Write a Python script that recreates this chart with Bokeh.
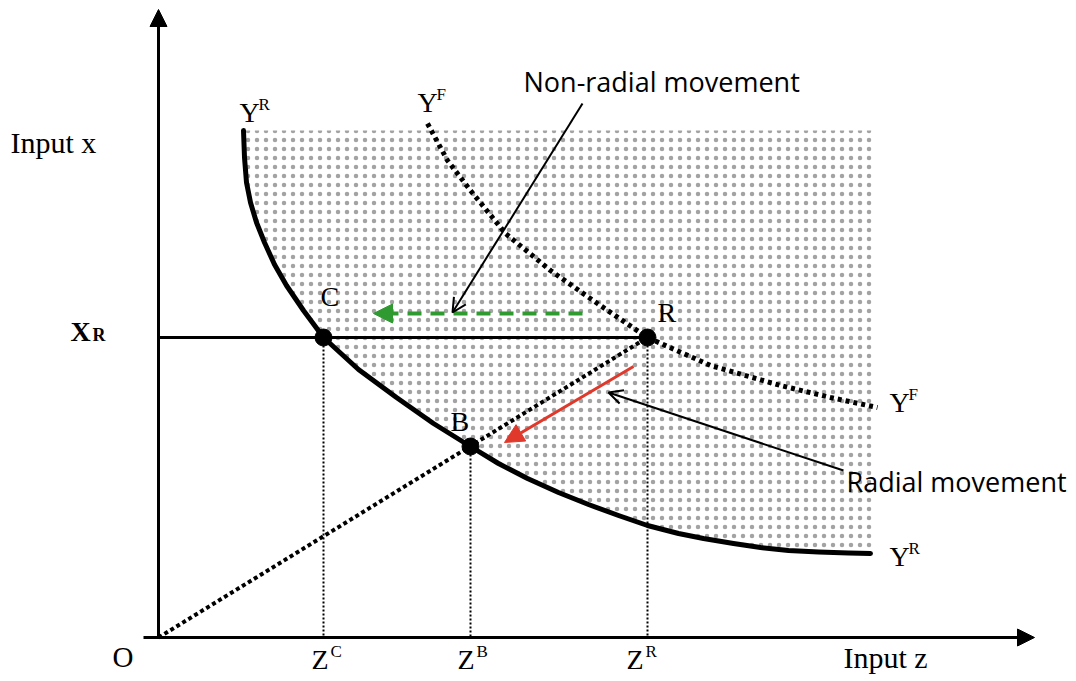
from bokeh.plotting import figure
from bokeh.models import Range1d, Arrow, NormalHead, OpenHead
from bokeh.core.properties import value
from bokeh.embed import file_html
from bokeh.resources import INLINE

# Reference isoquant Y^R (input z, input x)
yr_z = [85, 86, 88, 92, 98, 106, 116, 128, 145, 165, 200, 238, 275, 312, 340, 369,
        400, 430, 460, 489, 520, 545, 575, 602, 630, 660, 690, 712]
yr_x = [507, 480, 455, 435, 415, 395, 373, 352, 327, 300, 268, 240, 214, 191, 174, 159,
        145, 133, 122, 112, 104, 99, 94, 90, 87, 85.5, 84.5, 84]

# Frontier isoquant Y^F
yf_z = [269, 289, 312, 347, 392, 439, 489, 552, 622, 672, 719]
yf_x = [514, 477, 447, 404, 367, 334, 300, 272, 252, 240, 230]

# Observed and projected points
pt_names = ["C", "R", "B"]
pt_z = [165, 489, 312]
pt_x = [300, 300, 191]

# Extent of the shaded input set
set_top = 507
set_right = 715

SERIF = value("Liberation Serif")
SANS = value("Open Sans")

W, H = 1076, 681
OX, OY = 158, 637  # page position of the origin
BASE_FIX = 11      # lift applied to text baselines

p = figure(width=W, height=H, output_backend="svg", toolbar_location=None,
           x_axis_location=None, y_axis_location=None, min_border=0,
           x_range=Range1d(-OX, W - OX), y_range=Range1d(OY - H, OY))
p.grid.visible = False
p.outline_line_color = None
p.background_fill_color = "white"


def px(x):
    return x - OX


def py(y):
    return OY - y


# stippled input set above Y^R
patch_z = list(yr_z) + [set_right, set_right, yr_z[0]]
patch_x = list(yr_x) + [yr_x[-1], set_top, set_top]
p.patch(patch_z, patch_x, fill_color="white", line_color=None,
        hatch_pattern=".", hatch_color="#a3a3a3", hatch_scale=9, hatch_weight=1.1)

# axes with arrowheads
p.add_layout(Arrow(end=NormalHead(size=17, fill_color="black", line_color="black"),
                   x_start=0, y_start=0, x_end=0, y_end=py(9),
                   line_width=3, line_color="black"))
p.add_layout(Arrow(end=NormalHead(size=17, fill_color="black", line_color="black"),
                   x_start=px(143), y_start=0, x_end=px(1034), y_end=0,
                   line_width=3, line_color="black"))

# X_R level line from the axis to R
p.line([0, pt_z[1]], [pt_x[1], pt_x[1]], line_width=3, line_color="black")

# drop lines to the z axis
for z, x in zip(pt_z, pt_x):
    p.line([z, z], [x, 0], line_width=2, line_color="black", line_dash="2 2")

# ray from the origin through B to R
p.line([0, pt_z[1]], [0, pt_x[1]], line_width=4, line_color="black", line_dash="4 3")

# isoquants
p.line(yf_z, yf_x, line_width=5, line_color="black", line_dash="4 4")
p.line(yr_z, yr_x, line_width=5, line_color="black", line_cap="round", line_join="round")

# movements
p.add_layout(Arrow(end=NormalHead(size=19, fill_color="#2f9a2f", line_color="#2f9a2f"),
                   x_start=px(582), y_start=py(313), x_end=px(373), y_end=py(313),
                   line_width=4, line_color="#2f9a2f", line_dash="14 9"))
p.add_layout(Arrow(end=NormalHead(size=19, fill_color="#e0392b", line_color="#e0392b"),
                   x_start=px(633), y_start=py(366), x_end=px(504), y_end=py(442),
                   line_width=3, line_color="#e0392b"))
p.add_layout(Arrow(end=OpenHead(size=14, line_width=2, line_color="black"),
                   x_start=px(582), y_start=py(103), x_end=px(452), y_end=py(312),
                   line_width=2, line_color="black"))
p.add_layout(Arrow(end=OpenHead(size=14, line_width=2, line_color="black"),
                   x_start=px(843), y_start=py(470), x_end=px(608), y_end=py(392),
                   line_width=2, line_color="black"))

# points
p.scatter(pt_z, pt_x, size=17, fill_color="black", line_color="black")


def label(text, left, base, size, font=SERIF, style="normal"):
    p.text([px(left)], [py(base - BASE_FIX)], text=[text], text_font=font,
           text_font_size=f"{size}px", text_font_style=style,
           text_align="left", text_baseline="alphabetic", text_color="black")


def sup_label(main, sup, left, base):
    label(main, left, base, 28)
    label(sup, left + 19, base - 8, 17)


label("Input x", 10, 153, 30)
label("Input z", 843, 668, 30)
label("O", 112, 667, 29)
for name, z, x, dx, dy in zip(pt_names, pt_z, pt_x, [-3, 10, -20], [-30, -14, -14]):
    label(name, OX + z + dx, OY - x + dy, 28)

sup_label("Y", "R", 239, 123)
sup_label("Y", "F", 417, 113)
sup_label("Y", "F", 889, 413)
sup_label("Y", "R", 889, 567)
sup_label("Z", "C", 311, 670)
sup_label("Z", "B", 457, 670)
sup_label("Z", "R", 626, 670)

label("X", 70, 342, 28, style="bold")
label("R", 92, 345, 18, style="bold")

label("Non-radial movement", 523, 92, 27, font=SANS)
label("Radial movement", 846, 492, 27, font=SANS)

open("out.html", "w").write(file_html(p, INLINE))
